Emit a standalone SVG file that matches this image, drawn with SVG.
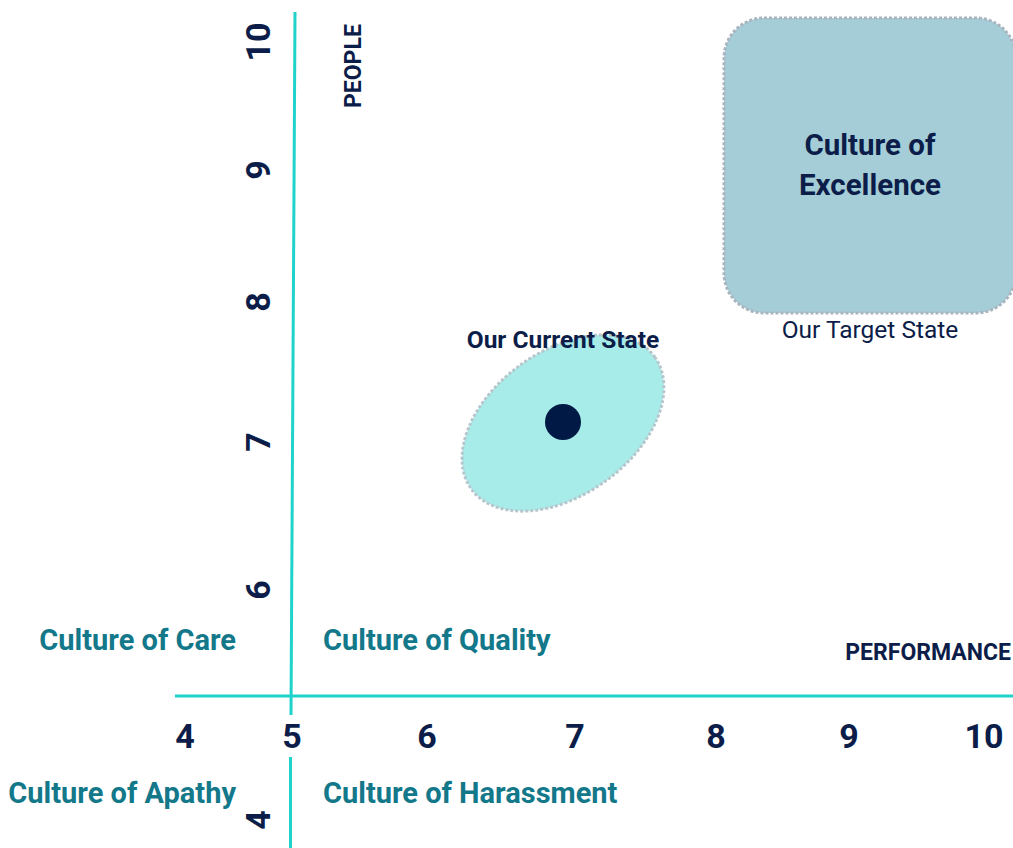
<svg xmlns="http://www.w3.org/2000/svg" width="1013" height="848" viewBox="0 0 1013 848">
  <style>
    .axis { stroke: #1fd3cb; stroke-width: 3; fill: none; }
    .tick { font-family: Roboto, "Liberation Sans", sans-serif; font-weight: 700; font-size: 34px; fill: #0b1d48; text-anchor: middle; }
    .axisname { font-family: Roboto, "Liberation Sans", sans-serif; font-weight: 700; font-size: 23px; fill: #0b1d48; }
    .quad { font-family: Roboto, "Liberation Sans", sans-serif; font-weight: 700; font-size: 29px; fill: #12788a; }
    .title { font-family: Roboto, "Liberation Sans", sans-serif; font-weight: 700; font-size: 29.5px; fill: #0b1d48; text-anchor: middle; }
    .label { font-family: Roboto, "Liberation Sans", sans-serif; font-size: 24.5px; fill: #0b1d48; text-anchor: middle; }
    .labelb { font-family: Roboto, "Liberation Sans", sans-serif; font-weight: 700; font-size: 24.5px; fill: #0b1d48; text-anchor: middle; }
  </style>
  <rect width="1013" height="848" fill="#ffffff"/>

  <!-- axes -->
  <g id="axes">
    <line class="axis" x1="295" y1="12" x2="291" y2="715"/>
    <line class="axis" x1="290.5" y1="757" x2="290.5" y2="848"/>
    <line class="axis" x1="175" y1="696" x2="1013" y2="696"/>
  </g>

  <!-- performance scale -->
  <g id="x-ticks">
    <text class="tick" x="185" y="748">4</text>
    <text class="tick" x="292" y="748">5</text>
    <text class="tick" x="427" y="748">6</text>
    <text class="tick" x="575" y="748">7</text>
    <text class="tick" x="716" y="748">8</text>
    <text class="tick" x="849" y="748">9</text>
    <text class="tick" x="984" y="748">10</text>
  </g>

  <!-- people scale -->
  <g id="y-ticks">
    <text class="tick" transform="translate(270 42) rotate(-90)">10</text>
    <text class="tick" transform="translate(270 170) rotate(-90)">9</text>
    <text class="tick" transform="translate(270 302) rotate(-90)">8</text>
    <text class="tick" transform="translate(270 442) rotate(-90)">7</text>
    <text class="tick" transform="translate(270 590) rotate(-90)">6</text>
    <text class="tick" transform="translate(270 820) rotate(-90)">4</text>
  </g>

  <g id="axis-names">
    <text class="axisname" transform="translate(361 108) rotate(-90)">PEOPLE</text>
    <text class="axisname" x="1011" y="660" text-anchor="end">PERFORMANCE</text>
  </g>

  <!-- quadrant names -->
  <g id="quadrants">
    <text class="quad" x="236" y="650" text-anchor="end">Culture of Care</text>
    <text class="quad" x="323" y="650">Culture of Quality</text>
    <text class="quad" x="236" y="803" text-anchor="end">Culture of Apathy</text>
    <text class="quad" x="323" y="803">Culture of Harassment</text>
  </g>

  <!-- target zone -->
  <g id="target-state">
    <rect x="724" y="18" width="292" height="295" rx="40" fill="#a4cdd7" stroke="#a9b4bf" stroke-width="3" stroke-dasharray="3 2"/>
    <text class="title" x="870" y="155">Culture of</text>
    <text class="title" x="870" y="195">Excellence</text>
    <text class="label" x="870" y="338">Our Target State</text>
  </g>

  <!-- current position -->
  <g id="current-state">
    <ellipse cx="563" cy="423" rx="113" ry="72" transform="rotate(-35.7 563 423)" fill="#a8ece9" stroke="#b7c6cd" stroke-width="3" stroke-dasharray="3 2"/>
    <circle cx="563" cy="422" r="18" fill="#001a45"/>
    <text class="labelb" x="563" y="348">Our Current State</text>
  </g>
</svg>
